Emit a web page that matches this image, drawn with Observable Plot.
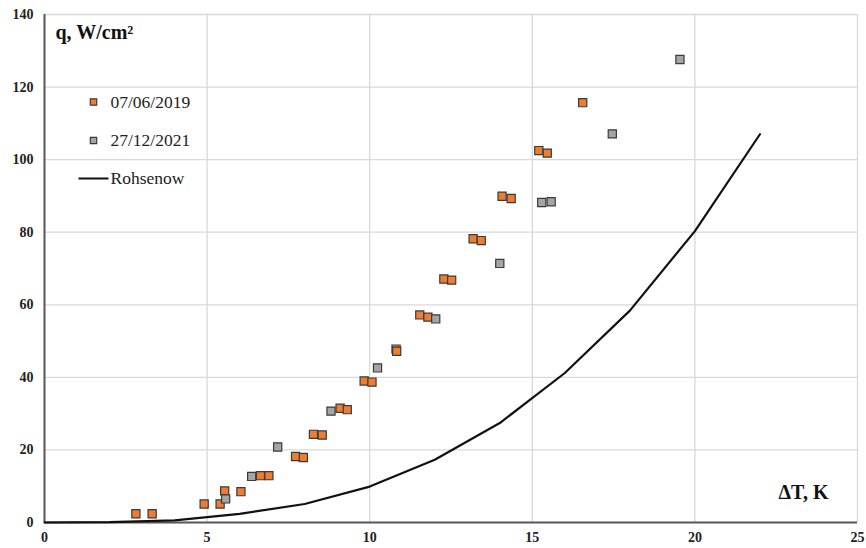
<!DOCTYPE html>
<html><head><meta charset="utf-8">
<script src="https://cdn.jsdelivr.net/npm/d3@7"></script>
<script src="https://cdn.jsdelivr.net/npm/@observablehq/plot@0.6"></script>
<style>body{margin:0;background:#fff} svg text{font-family:"Liberation Serif","Times New Roman",serif !important;}</style>
</head><body><div id="chart"></div>
<script>
// Series 07/06/2019 (orange)
const dT2019 = [2.81,3.31,4.91,5.40,5.54,6.04,6.64,6.90,7.72,7.96,8.27,8.54,9.09,9.31,9.83,10.07,10.81,10.83,11.54,11.79,12.28,12.52,13.18,13.43,14.07,14.35,15.20,15.46,16.55];
const q2019  = [2.4,2.4,5.1,5.1,8.7,8.5,12.9,12.9,18.2,17.9,24.3,24.1,31.5,31.1,39.0,38.7,47.8,47.2,57.2,56.6,67.1,66.8,78.2,77.7,89.9,89.3,102.5,101.8,115.7];
// Series 27/12/2021 (gray)
const dT2021 = [5.57,6.37,7.17,8.81,10.24,12.03,14.00,15.29,15.58,17.46,19.54];
const q2021  = [6.5,12.7,20.8,30.7,42.6,56.1,71.4,88.2,88.4,107.1,127.6];
// Rohsenow correlation
const dTRoh = [0,2,4,6,8,10,12,14,16,18,20,22];
const qRoh  = [0,0.1,0.6,2.4,5.1,9.9,17.3,27.4,41.2,58.4,80.3,107];
// Ticks and labels
const xTicks = [0,5,10,15,20,25];
const yTicks = [0,20,40,60,80,100,120,140];
const legendLabels = ["07/06/2019","27/12/2021","Rohsenow"];
const yTitle = "q, W/cm²";
const xTitle = "ΔT, K";

const orange = "#ED7D31", gray = "#A5A5A5", edge = "#3a3a3a";
const FONT = "'Liberation Serif', 'Times New Roman', serif";
const d2019 = dT2019.map((x,i)=>({x, y:q2019[i]}));
const d2021 = dT2021.map((x,i)=>({x, y:q2021[i]}));
const dRoh = dTRoh.map((x,i)=>({x, y:qRoh[i]}));

const ML = 44, MT = 14;
const lineSymbol = {draw(ctx){ ctx.moveTo(-15,0); ctx.lineTo(15,0); }};
const legendY = [101.5, 140, 178];

const chart = Plot.plot({
  width: 866, height: 548,
  marginLeft: ML, marginRight: 9, marginTop: MT, marginBottom: 26,
  style: {fontFamily: FONT, color: "#222", background: "#fff"},
  x: {domain: [0,25]},
  y: {domain: [0,140]},
  marks: [
    Plot.gridX(xTicks, {stroke: "#d9d9d9", strokeOpacity: 1, strokeWidth: 1.3}),
    Plot.gridY(yTicks, {stroke: "#d9d9d9", strokeOpacity: 1, strokeWidth: 1.3}),
    Plot.axisX(xTicks, {tickSize: 0, tickPadding: 10, fontSize: 14, fontWeight: "bold", fontFamily: FONT, label: null}),
    Plot.axisY(yTicks, {tickSize: 0, tickPadding: 11, fontSize: 14, fontWeight: "bold", fontFamily: FONT, label: null}),
    Plot.ruleX([0], {stroke: "#595959", strokeWidth: 2}),
    Plot.ruleY([0], {stroke: "#595959", strokeWidth: 2}),
    Plot.line(dRoh, {x: "x", y: "y", stroke: "#111", strokeWidth: 2.2}),
    Plot.dot(d2019, {x: "x", y: "y", symbol: "square", r: 4.6, fill: orange, stroke: edge, strokeWidth: 1.2}),
    Plot.dot(d2021, {x: "x", y: "y", symbol: "square", r: 4.6, fill: gray, stroke: edge, strokeWidth: 1.2}),
    // axis titles
    Plot.text([yTitle], {text: d=>d, frameAnchor: "top-left", dx: 55-ML, dy: 38-MT, textAnchor: "start", lineAnchor: "bottom", fontSize: 20, fontWeight: "bold", fontFamily: FONT, fill: "#111"}),
    Plot.text([xTitle], {text: d=>d, frameAnchor: "bottom-right", dx: -29, dy: -24, textAnchor: "end", lineAnchor: "bottom", fontSize: 20, fontWeight: "bold", fontFamily: FONT, fill: "#111"}),
    // legend
    Plot.dot([legendLabels[0]], {frameAnchor: "top-left", dx: 93-ML, dy: legendY[0]-MT, symbol: "square", r: 3.6, fill: orange, stroke: edge, strokeWidth: 1.2}),
    Plot.dot([legendLabels[1]], {frameAnchor: "top-left", dx: 93-ML, dy: legendY[1]-MT, symbol: "square", r: 3.6, fill: gray, stroke: edge, strokeWidth: 1.2}),
    Plot.dot([legendLabels[2]], {frameAnchor: "top-left", dx: 93-ML, dy: legendY[2]-MT, symbol: lineSymbol, r: 5, fill: "none", stroke: "#111", strokeWidth: 2}),
    ...legendLabels.map((lab, i) => Plot.text([lab], {text: d=>d, frameAnchor: "top-left", dx: 110-ML, dy: legendY[i]-MT, textAnchor: "start", lineAnchor: "middle", fontSize: 17.5, fontFamily: FONT, fill: "#222"}))
  ]
});
document.getElementById("chart").appendChild(chart);
</script>
</body></html>
